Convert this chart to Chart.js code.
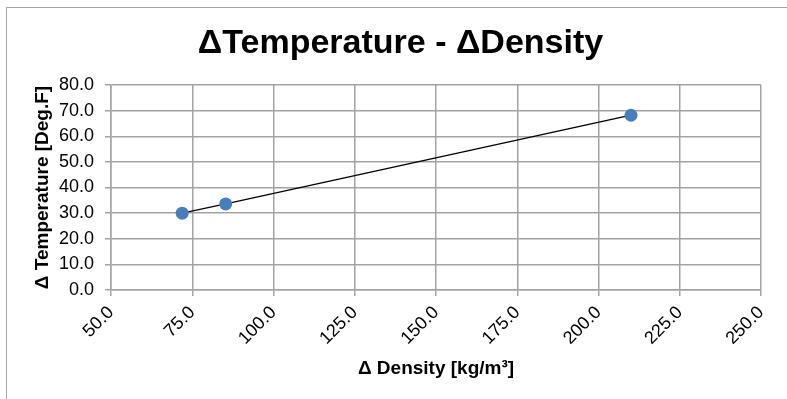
<!DOCTYPE html>
<html lang="en">
<head>
    <meta charset="UTF-8">
    <title>ΔTemperature - ΔDensity</title>
    <script src="https://cdn.jsdelivr.net/npm/chart.js@4.4.1/dist/chart.umd.min.js"></script>
    <style>
        html, body { margin: 0; padding: 0; background: #fff; }
        #wrap { width: 787px; height: 399px; position: relative; }
    </style>
</head>
<body>
<div id="wrap"><canvas id="chart"></canvas></div>
<script>
// values
const densityDelta = [71.9, 85.3, 210.0];
const temperatureDelta = [30.0, 33.6, 68.2];

const xTicks = [50, 75, 100, 125, 150, 175, 200, 225, 250];
const yTicks = [0, 10, 20, 30, 40, 50, 60, 70, 80];

const points = densityDelta.map((d, i) => ({ x: d, y: temperatureDelta[i] }));

const gridColor = '#a3a3a3';
const fontFamily = "'Liberation Sans', Arial, sans-serif";

// outer frame of the chart (only left and top edges show)
const framePlugin = {
    id: 'frame',
    beforeDraw(chart) {
        const ctx = chart.ctx;
        ctx.save();
        ctx.fillStyle = '#fff';
        ctx.fillRect(0, 0, chart.width, chart.height);
        ctx.strokeStyle = '#a6a6a6';
        ctx.lineWidth = 1;
        ctx.strokeRect(6.5, 7.5, 900, 900);
        ctx.restore();
    }
};

new Chart(document.getElementById('chart'), {
    type: 'scatter',
    data: {
        datasets: [{
            label: 'ΔT',
            data: points,
            showLine: true,
            borderColor: '#000',
            borderWidth: 1.3,
            pointRadius: 6.5,
            pointHoverRadius: 6.5,
            pointBackgroundColor: '#4a7ebb',
            pointBorderColor: '#4a7ebb',
            pointBorderWidth: 0
        }]
    },
    options: {
        responsive: true,
        maintainAspectRatio: false,
        animation: false,
        layout: { padding: { left: 14, right: 0, top: 0, bottom: 0 } },
        plugins: {
            legend: { display: false },
            tooltip: { enabled: false },
            title: {
                display: true,
                text: 'ΔTemperature - ΔDensity',
                color: '#000',
                font: { family: fontFamily, size: 34, weight: 'bold' },
                padding: { top: 23, bottom: 21.2 }
            }
        },
        scales: {
            x: {
                type: 'linear',
                min: 50,
                max: 250,
                afterBuildTicks(scale) { scale.ticks = xTicks.map(v => ({ value: v })); },
                afterFit(scale) { scale.height = 109; },
                border: { color: gridColor, width: 1.5 },
                grid: { color: gridColor, lineWidth: 1.5, tickLength: 6, tickColor: gridColor },
                ticks: {
                    color: '#000',
                    minRotation: 45,
                    maxRotation: 45,
                    padding: 6,
                    font: { family: fontFamily, size: 18 },
                    callback: v => v.toFixed(1)
                },
                title: {
                    display: true,
                    text: 'Δ Density [kg/m³]',
                    color: '#000',
                    font: { family: fontFamily, size: 19, weight: 'bold' },
                    padding: { top: 0, bottom: 19 }
                }
            },
            y: {
                type: 'linear',
                min: 0,
                max: 80,
                afterBuildTicks(scale) { scale.ticks = yTicks.map(v => ({ value: v })); },
                afterFit(scale) { scale.width = 97; },
                border: { color: gridColor, width: 1.5 },
                grid: { color: gridColor, lineWidth: 1.5, tickLength: 6, tickColor: gridColor },
                ticks: {
                    color: '#000',
                    padding: 11,
                    font: { family: fontFamily, size: 18 },
                    callback: v => v.toFixed(1)
                },
                title: {
                    display: true,
                    text: 'Δ Temperature [Deg.F]',
                    color: '#000',
                    font: { family: fontFamily, size: 19, weight: 'bold' },
                    padding: { top: 17, bottom: 0 }
                }
            },
            // empty axis that only keeps the right margin
            yRight: {
                position: 'right',
                display: true,
                afterFit(scale) { scale.width = 26; },
                border: { display: false },
                grid: { display: false, drawTicks: false },
                ticks: { display: false },
                title: { display: false }
            }
        }
    },
    plugins: [framePlugin]
});
</script>
</body>
</html>
